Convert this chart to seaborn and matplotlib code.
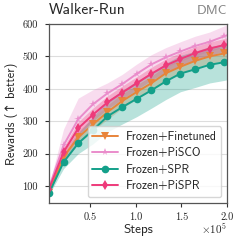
import numpy as np
import pandas as pd
import matplotlib
matplotlib.use('Agg')
import matplotlib.pyplot as plt
from matplotlib.ticker import FuncFormatter, MultipleLocator
import seaborn as sns

# данные
steps = [5000, 21000, 37000, 53000, 69000, 85000, 101000, 117000,
         133000, 149000, 165000, 181000, 197000, 200000]
methods = ["Frozen+Finetuned", "Frozen+PiSCO", "Frozen+SPR", "Frozen+PiSPR"]

finetuned = [80, 190, 250, 290, 328, 362, 390, 417, 448, 468, 486, 500, 509, 511]
pisco = [95, 226, 306, 352, 386, 414, 446, 475, 497, 515, 532, 545, 562, 565]
spr = [78, 174, 232, 272, 315, 343, 369, 395, 423, 447, 460, 474, 482, 484]
pispr = [91, 205, 278, 320, 358, 388, 417, 446, 472, 492, 510, 524, 535, 537]

finetuned_sd = [5, 15, 20, 20, 22, 22, 22, 22, 22, 22, 22, 22, 22, 22]
pisco_sd = [6, 50, 65, 45, 32, 30, 30, 30, 30, 30, 30, 30, 32, 32]
spr_sd = [5, 20, 32, 42, 48, 52, 55, 55, 56, 56, 56, 56, 56, 56]
pispr_sd = [5, 15, 20, 20, 20, 20, 20, 20, 20, 20, 20, 20, 20, 20]

colors = {"Frozen+Finetuned": "#e8843a", "Frozen+PiSCO": "#ea8ccb",
          "Frozen+SPR": "#14a08a", "Frozen+PiSPR": "#ee3a7a"}
markers = {"Frozen+Finetuned": "v", "Frozen+PiSCO": "*",
           "Frozen+SPR": "o", "Frozen+PiSPR": "d"}

means = [finetuned, pisco, spr, pispr]
sds = [finetuned_sd, pisco_sd, spr_sd, pispr_sd]

df = pd.concat([
    pd.DataFrame({"Steps": steps, "Rewards": m, "sd": s, "method": name})
    for name, m, s in zip(methods, means, sds)
], ignore_index=True)

sns.set_style("ticks")
plt.rcParams['font.family'] = ['cmss10', 'DejaVu Sans']
plt.rcParams['mathtext.fontset'] = 'cm'
plt.rcParams['axes.unicode_minus'] = False
plt.rcParams['axes.formatter.use_mathtext'] = True

fig = plt.figure(figsize=(2.4, 2.44), dpi=100)
ax = fig.add_axes([0.204, 0.168, 0.742, 0.734])

for name in methods:
    sub = df[df["method"] == name]
    ax.fill_between(sub["Steps"], sub["Rewards"] - sub["sd"],
                    sub["Rewards"] + sub["sd"], color=colors[name],
                    alpha=0.3, linewidth=0)

sns.lineplot(data=df, x="Steps", y="Rewards", hue="method", style="method",
             hue_order=methods, style_order=methods, palette=colors,
             markers=markers, dashes=False, errorbar=None, linewidth=1.4,
             markersize=5.5, markeredgewidth=0, markevery=list(range(13)),
             ax=ax)

ax.set_xlim(5000, 200000)
ax.set_ylim(48, 600)
ax.xaxis.set_major_locator(MultipleLocator(50000))
ax.yaxis.set_major_locator(MultipleLocator(100))
ax.xaxis.set_major_formatter(FuncFormatter(lambda v, p: f"{v / 1e5:.1f}"))
ax.yaxis.set_major_formatter(FuncFormatter(lambda v, p: f"{v:.0f}"))
ax.tick_params(labelsize=7.5, length=3, width=0.8, color="#333333")
ax.tick_params(axis="y", pad=5)
ax.tick_params(axis="x", pad=4)
plt.setp(ax.get_xticklabels() + ax.get_yticklabels(), family="cmr10")
ax.grid(axis="y", color="#dddddd", linewidth=0.8)
for sp in ax.spines.values():
    sp.set_color("#555555")
    sp.set_linewidth(0.9)

ax.set_xlabel("Steps", fontsize=9.5, labelpad=1)
ax.set_ylabel("Rewards (↑ better)", fontsize=9, labelpad=3)
ax.text(1.0, -0.102, r"$\times 10^5$", transform=ax.transAxes,
        ha="right", va="top", fontsize=8)
ax.text(0.0, 1.04, "Walker-Run", transform=ax.transAxes, ha="left",
        va="bottom", fontsize=11.2)
ax.text(1.0, 1.04, "DMC", transform=ax.transAxes, ha="right",
        va="bottom", fontsize=9.8, color="#888888")

ax.legend(title=None, loc="lower right", fontsize=8.5, frameon=True,
          handlelength=2.2, borderpad=0.4, labelspacing=0.38,
          handletextpad=0.6, borderaxespad=0.5)

fig.savefig("out.png", dpi=100, facecolor="white")
plt.close(fig)
